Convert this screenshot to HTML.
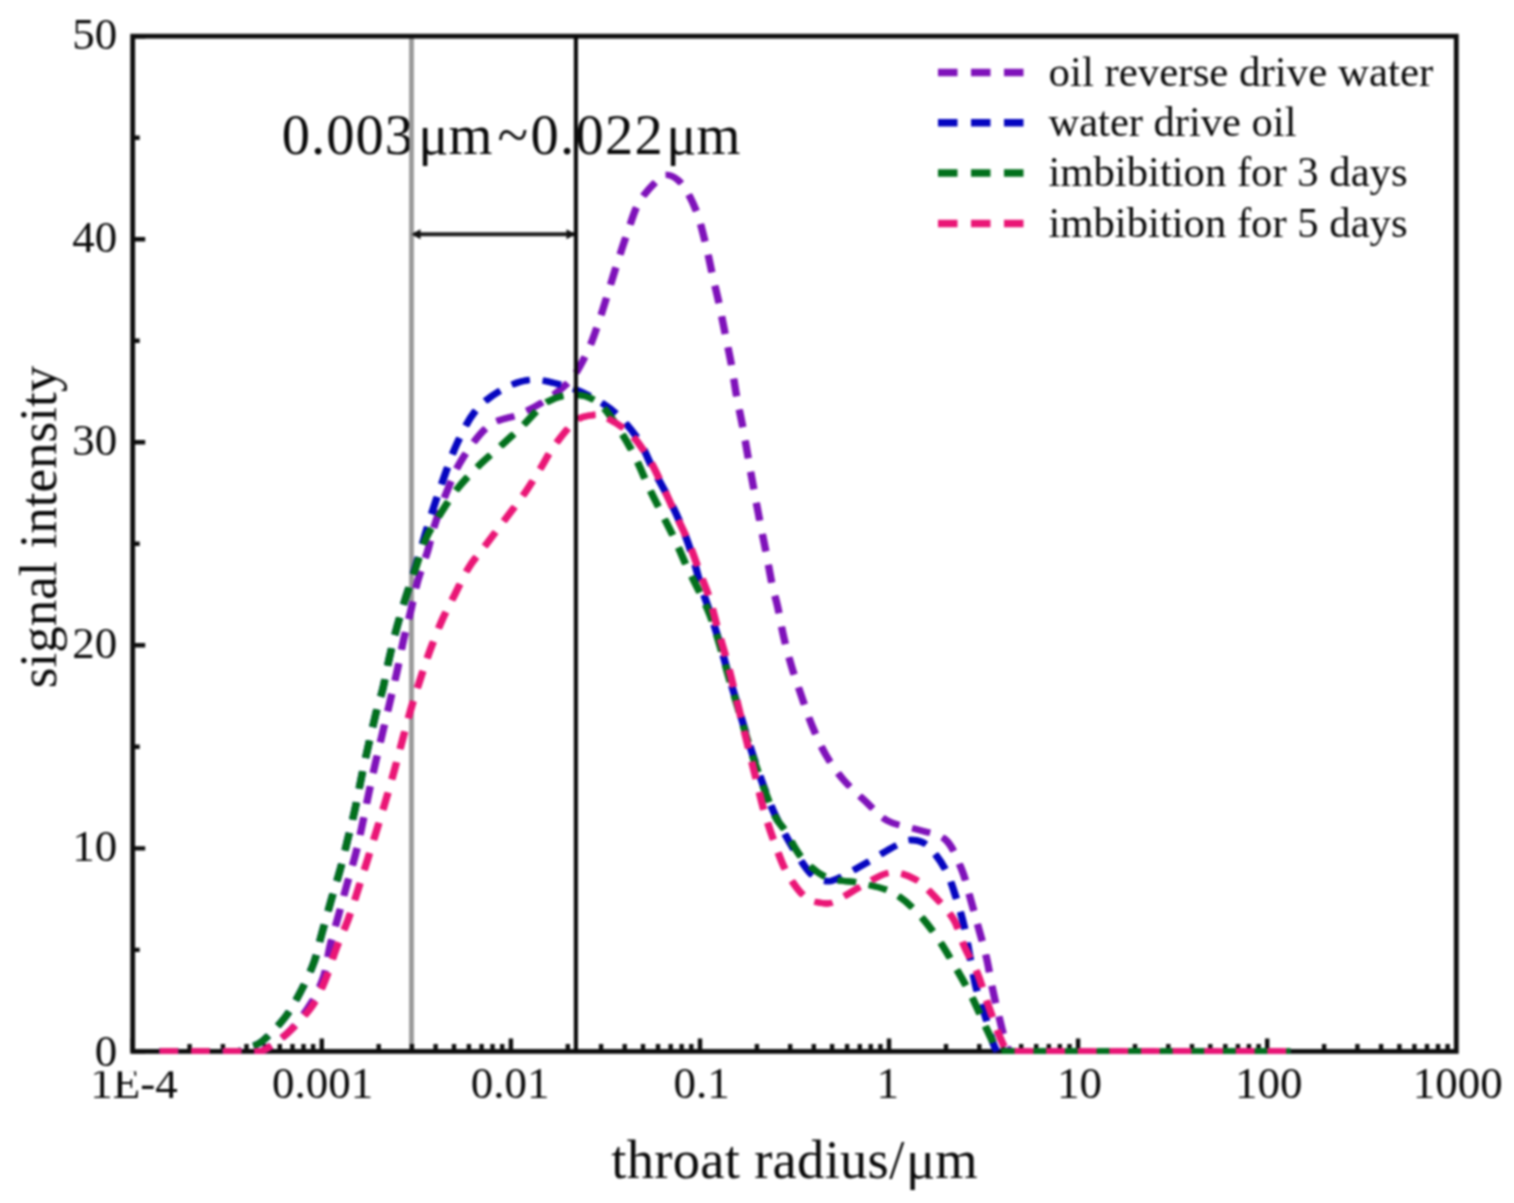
<!DOCTYPE html>
<html lang="en"><head><meta charset="utf-8"><title>Throat radius distribution</title>
<style>
html,body{margin:0;padding:0;background:#fff;}
body{width:1514px;height:1203px;overflow:hidden;}
svg{display:block;filter:blur(0.8px);}
</style></head><body>
<svg width="1514" height="1203" viewBox="0 0 1514 1203">
<rect x="0" y="0" width="1514" height="1203" fill="#ffffff"/>
<g font-family="'Liberation Serif', 'Times New Roman', serif" fill="#0a0a0a">
<text x="133.9" y="1097.6" font-size="45" text-anchor="middle">1E-4</text>
<text x="322.5" y="1097.6" font-size="45" text-anchor="middle">0.001</text>
<text x="510.1" y="1097.6" font-size="45" text-anchor="middle">0.01</text>
<text x="701.5" y="1097.6" font-size="45" text-anchor="middle">0.1</text>
<text x="887.8" y="1097.6" font-size="45" text-anchor="middle">1</text>
<text x="1079.6" y="1097.6" font-size="45" text-anchor="middle">10</text>
<text x="1268.7" y="1097.6" font-size="45" text-anchor="middle">100</text>
<text x="1457.8" y="1097.6" font-size="45" text-anchor="middle">1000</text>
<rect x="88" y="1057" width="96" height="14.4" fill="#ffffff"/>
<text x="117.3" y="1065.9" font-size="45" text-anchor="end">0</text>
<text x="117.3" y="860.9" font-size="45" text-anchor="end">10</text>
<text x="117.3" y="657.8" font-size="45" text-anchor="end">20</text>
<text x="117.3" y="454.8" font-size="45" text-anchor="end">30</text>
<text x="117.3" y="251.7" font-size="45" text-anchor="end">40</text>
<text x="117.3" y="48.7" font-size="45" text-anchor="end">50</text>
<text y="1177.8" font-size="54.5"><tspan x="611.3" letter-spacing="0.3">throat radius/</tspan><tspan x="906">μm</tspan></text>
<text transform="translate(55.8,688.2) rotate(-90)" font-size="53">signal intensity</text>
<text y="154.4" font-size="56.5"><tspan x="281.8" letter-spacing="1.0">0.003</tspan><tspan x="418.3">μm</tspan><tspan x="497.5">~</tspan><tspan x="530.5" letter-spacing="1.3">0.022</tspan><tspan x="666.3">μm</tspan></text>
<text x="1048.5" y="86.0" font-size="42.5" textLength="384.8" lengthAdjust="spacingAndGlyphs">oil reverse drive water</text>
<text x="1048.5" y="136.2" font-size="42.5" textLength="248.0" lengthAdjust="spacingAndGlyphs">water drive oil</text>
<text x="1048.5" y="186.4" font-size="42.5" textLength="359.0" lengthAdjust="spacingAndGlyphs">imbibition for 3 days</text>
<text x="1048.5" y="236.6" font-size="42.5" textLength="359.0" lengthAdjust="spacingAndGlyphs">imbibition for 5 days</text>
</g>
<line x1="411.5" y1="36.2" x2="411.5" y2="1051.4" stroke="#999999" stroke-width="4.8"/>
<path d="M132.7,1051.4 h12.5 M132.7,949.9 h7.0 M132.7,848.4 h12.5 M132.7,746.8 h7.0 M132.7,645.3 h12.5 M132.7,543.8 h7.0 M132.7,442.3 h12.5 M132.7,340.8 h7.0 M132.7,239.2 h12.5 M132.7,137.7 h7.0 M132.7,36.2 h12.5 M132.7,1051.4 v-13.0 M189.6,1051.4 v-7.5 M222.9,1051.4 v-7.5 M246.5,1051.4 v-7.5 M264.9,1051.4 v-7.5 M279.8,1051.4 v-7.5 M292.5,1051.4 v-7.5 M303.5,1051.4 v-7.5 M313.1,1051.4 v-7.5 M321.8,1051.4 v-13.0 M378.7,1051.4 v-7.5 M412.0,1051.4 v-7.5 M435.6,1051.4 v-7.5 M454.0,1051.4 v-7.5 M468.9,1051.4 v-7.5 M481.6,1051.4 v-7.5 M492.5,1051.4 v-7.5 M502.2,1051.4 v-7.5 M510.9,1051.4 v-13.0 M567.8,1051.4 v-7.5 M601.1,1051.4 v-7.5 M624.7,1051.4 v-7.5 M643.0,1051.4 v-7.5 M658.0,1051.4 v-7.5 M670.7,1051.4 v-7.5 M681.6,1051.4 v-7.5 M691.3,1051.4 v-7.5 M700.0,1051.4 v-13.0 M756.9,1051.4 v-7.5 M790.2,1051.4 v-7.5 M813.8,1051.4 v-7.5 M832.1,1051.4 v-7.5 M847.1,1051.4 v-7.5 M859.8,1051.4 v-7.5 M870.7,1051.4 v-7.5 M880.4,1051.4 v-7.5 M889.0,1051.4 v-13.0 M946.0,1051.4 v-7.5 M979.3,1051.4 v-7.5 M1002.9,1051.4 v-7.5 M1021.2,1051.4 v-7.5 M1036.2,1051.4 v-7.5 M1048.8,1051.4 v-7.5 M1059.8,1051.4 v-7.5 M1069.5,1051.4 v-7.5 M1078.1,1051.4 v-13.0 M1135.0,1051.4 v-7.5 M1168.3,1051.4 v-7.5 M1192.0,1051.4 v-7.5 M1210.3,1051.4 v-7.5 M1225.3,1051.4 v-7.5 M1237.9,1051.4 v-7.5 M1248.9,1051.4 v-7.5 M1258.6,1051.4 v-7.5 M1267.2,1051.4 v-13.0 M1324.1,1051.4 v-7.5 M1357.4,1051.4 v-7.5 M1381.1,1051.4 v-7.5 M1399.4,1051.4 v-7.5 M1414.4,1051.4 v-7.5 M1427.0,1051.4 v-7.5 M1438.0,1051.4 v-7.5 M1447.6,1051.4 v-7.5" stroke="#0d0d0d" stroke-width="4.4" fill="none"/>
<rect x="132.7" y="36.2" width="1323.6" height="1015.2" fill="none" stroke="#0d0d0d" stroke-width="4.8"/>
<clipPath id="plotclip"><rect x="130.3" y="33.8" width="1328.4" height="1020.0"/></clipPath>
<g clip-path="url(#plotclip)" fill="none" stroke="#7f12ba" stroke-width="6.3" stroke-dasharray="17.8 13.8" stroke-dashoffset="0" stroke-linejoin="round">
<path transform="translate(-0.55,0)" d="M160.0,1051.4 L262.0,1051.4 C264.2,1050.0 270.0,1046.8 275.0,1043.0 C280.0,1039.2 286.0,1035.2 292.0,1028.6 C298.0,1022.0 305.6,1012.0 310.9,1003.4 C316.2,994.8 320.4,986.3 323.6,976.8 C326.8,967.3 327.5,956.6 330.0,946.2 C332.5,935.8 336.0,924.5 338.8,914.3 C341.6,904.1 344.0,895.0 346.8,885.0 C349.6,875.0 352.9,864.4 355.5,854.4 C358.1,844.4 360.0,835.4 362.2,825.2 C364.4,815.0 366.6,803.4 368.8,793.2 C371.0,783.0 371.7,779.1 375.2,764.0 C378.7,748.9 386.2,717.6 389.8,702.4 C393.4,687.1 394.5,682.8 396.8,672.5 C399.1,662.2 401.1,650.9 403.4,640.6 C405.7,630.3 408.4,620.7 410.8,610.7 C413.2,600.7 415.0,590.7 417.8,580.7 C420.6,570.7 424.9,560.1 427.7,550.8 C430.5,541.5 431.5,534.7 434.7,524.9 C437.9,515.1 442.2,502.9 446.7,492.0 C451.2,481.1 454.8,470.7 461.8,459.7 C468.8,448.7 479.0,433.4 488.8,425.8 C498.6,418.2 510.9,418.3 520.7,413.8 C530.5,409.3 539.1,404.8 547.6,399.0 C556.1,393.2 564.9,386.8 571.5,378.9 C578.1,371.0 583.0,360.7 587.5,351.5 C592.0,342.3 594.8,333.2 598.2,323.6 C601.6,314.0 604.6,303.8 607.8,293.6 C611.0,283.5 614.1,272.8 617.4,262.7 C620.7,252.6 623.8,242.8 627.4,232.8 C631.0,222.8 633.8,211.6 638.7,202.9 C643.6,194.2 651.8,185.6 656.7,180.9 C661.6,176.2 663.7,174.3 668.0,175.0 C672.3,175.7 677.8,178.8 682.6,184.9 C687.4,191.0 692.8,202.0 696.6,211.8 C700.4,221.6 702.9,233.2 705.6,243.8 C708.3,254.5 710.3,265.4 712.6,275.7 C714.9,286.0 717.4,295.6 719.5,305.6 C721.6,315.6 723.4,325.2 725.5,335.5 C727.6,345.8 730.0,356.8 731.9,367.4 C733.8,378.0 735.2,388.7 737.1,398.9 C739.0,409.1 741.2,418.5 743.1,428.8 C745.0,439.1 746.9,450.4 748.7,460.7 C750.5,471.0 752.2,480.2 754.1,490.7 C756.0,501.2 758.3,513.1 760.3,523.6 C762.3,534.1 764.3,543.2 766.3,553.5 C768.3,563.8 770.4,576.5 772.3,585.4 C774.2,594.3 775.8,598.3 777.7,606.9 C779.6,615.5 781.4,626.9 783.7,636.9 C786.0,646.9 788.7,656.8 791.7,666.8 C794.7,676.8 798.3,686.8 801.7,696.7 C805.1,706.6 808.3,716.6 812.3,726.2 C816.3,735.8 820.5,745.6 825.6,754.5 C830.8,763.4 836.7,771.9 843.2,779.5 C849.7,787.1 857.1,793.5 864.5,800.4 C871.9,807.3 878.7,815.9 887.6,820.8 C896.5,825.7 908.5,826.6 918.1,829.8 C927.8,832.9 938.3,833.2 945.5,839.7 C952.7,846.2 957.2,858.9 961.4,868.7 C965.5,878.5 967.6,888.8 970.4,898.6 C973.2,908.4 975.7,917.7 978.4,927.5 C981.1,937.3 984.0,947.0 986.4,957.4 C988.8,967.8 990.5,979.3 992.7,989.7 C994.9,1000.1 997.4,1010.3 999.7,1019.6 C1002.0,1028.9 1004.8,1040.3 1006.7,1045.6 C1008.6,1050.9 1010.3,1050.4 1011.0,1051.4 L1290.0,1051.4"/>
<path transform="translate(0.55,0)" d="M160.0,1051.4 L262.0,1051.4 C264.2,1050.0 270.0,1046.8 275.0,1043.0 C280.0,1039.2 286.0,1035.2 292.0,1028.6 C298.0,1022.0 305.6,1012.0 310.9,1003.4 C316.2,994.8 320.4,986.3 323.6,976.8 C326.8,967.3 327.5,956.6 330.0,946.2 C332.5,935.8 336.0,924.5 338.8,914.3 C341.6,904.1 344.0,895.0 346.8,885.0 C349.6,875.0 352.9,864.4 355.5,854.4 C358.1,844.4 360.0,835.4 362.2,825.2 C364.4,815.0 366.6,803.4 368.8,793.2 C371.0,783.0 371.7,779.1 375.2,764.0 C378.7,748.9 386.2,717.6 389.8,702.4 C393.4,687.1 394.5,682.8 396.8,672.5 C399.1,662.2 401.1,650.9 403.4,640.6 C405.7,630.3 408.4,620.7 410.8,610.7 C413.2,600.7 415.0,590.7 417.8,580.7 C420.6,570.7 424.9,560.1 427.7,550.8 C430.5,541.5 431.5,534.7 434.7,524.9 C437.9,515.1 442.2,502.9 446.7,492.0 C451.2,481.1 454.8,470.7 461.8,459.7 C468.8,448.7 479.0,433.4 488.8,425.8 C498.6,418.2 510.9,418.3 520.7,413.8 C530.5,409.3 539.1,404.8 547.6,399.0 C556.1,393.2 564.9,386.8 571.5,378.9 C578.1,371.0 583.0,360.7 587.5,351.5 C592.0,342.3 594.8,333.2 598.2,323.6 C601.6,314.0 604.6,303.8 607.8,293.6 C611.0,283.5 614.1,272.8 617.4,262.7 C620.7,252.6 623.8,242.8 627.4,232.8 C631.0,222.8 633.8,211.6 638.7,202.9 C643.6,194.2 651.8,185.6 656.7,180.9 C661.6,176.2 663.7,174.3 668.0,175.0 C672.3,175.7 677.8,178.8 682.6,184.9 C687.4,191.0 692.8,202.0 696.6,211.8 C700.4,221.6 702.9,233.2 705.6,243.8 C708.3,254.5 710.3,265.4 712.6,275.7 C714.9,286.0 717.4,295.6 719.5,305.6 C721.6,315.6 723.4,325.2 725.5,335.5 C727.6,345.8 730.0,356.8 731.9,367.4 C733.8,378.0 735.2,388.7 737.1,398.9 C739.0,409.1 741.2,418.5 743.1,428.8 C745.0,439.1 746.9,450.4 748.7,460.7 C750.5,471.0 752.2,480.2 754.1,490.7 C756.0,501.2 758.3,513.1 760.3,523.6 C762.3,534.1 764.3,543.2 766.3,553.5 C768.3,563.8 770.4,576.5 772.3,585.4 C774.2,594.3 775.8,598.3 777.7,606.9 C779.6,615.5 781.4,626.9 783.7,636.9 C786.0,646.9 788.7,656.8 791.7,666.8 C794.7,676.8 798.3,686.8 801.7,696.7 C805.1,706.6 808.3,716.6 812.3,726.2 C816.3,735.8 820.5,745.6 825.6,754.5 C830.8,763.4 836.7,771.9 843.2,779.5 C849.7,787.1 857.1,793.5 864.5,800.4 C871.9,807.3 878.7,815.9 887.6,820.8 C896.5,825.7 908.5,826.6 918.1,829.8 C927.8,832.9 938.3,833.2 945.5,839.7 C952.7,846.2 957.2,858.9 961.4,868.7 C965.5,878.5 967.6,888.8 970.4,898.6 C973.2,908.4 975.7,917.7 978.4,927.5 C981.1,937.3 984.0,947.0 986.4,957.4 C988.8,967.8 990.5,979.3 992.7,989.7 C994.9,1000.1 997.4,1010.3 999.7,1019.6 C1002.0,1028.9 1004.8,1040.3 1006.7,1045.6 C1008.6,1050.9 1010.3,1050.4 1011.0,1051.4 L1290.0,1051.4"/>
</g>
<g clip-path="url(#plotclip)" fill="none" stroke="#0606c0" stroke-width="6.3" stroke-dasharray="17.8 13.8" stroke-dashoffset="0" stroke-linejoin="round">
<path transform="translate(-0.55,0)" d="M160.0,1051.4 L238.0,1051.4 C240.0,1050.7 245.8,1048.8 250.0,1047.0 C254.2,1045.2 257.2,1045.5 263.0,1040.6 C268.8,1035.7 278.8,1025.4 285.0,1017.4 C291.2,1009.4 295.2,1001.7 300.0,992.7 C304.8,983.7 309.8,973.5 313.5,963.5 C317.2,953.5 319.0,943.5 322.0,932.9 C325.0,922.2 328.4,909.8 331.3,899.6 C334.2,889.4 336.9,881.5 339.6,871.7 C342.3,862.0 344.8,851.3 347.3,841.1 C349.8,830.9 352.4,820.7 354.7,810.5 C357.0,800.3 359.1,788.6 360.9,780.0 C362.7,771.4 362.9,769.8 365.4,758.7 C367.9,747.6 373.0,725.1 375.9,713.4 C378.8,701.7 380.7,697.6 382.9,688.5 C385.1,679.4 386.9,668.6 389.2,658.5 C391.5,648.4 394.0,637.8 396.8,627.6 C399.6,617.4 402.6,607.6 405.8,597.3 C409.0,587.0 412.6,576.1 415.8,565.8 C419.0,555.5 421.9,545.4 424.9,535.5 C427.9,525.6 430.7,516.2 433.9,506.6 C437.1,497.0 440.1,488.1 443.9,477.6 C447.7,467.1 451.8,454.7 456.9,443.7 C462.0,432.7 467.7,420.6 474.8,411.8 C481.9,403.0 490.5,396.2 499.7,390.9 C508.9,385.6 519.4,380.9 529.7,379.9 C540.0,378.9 551.3,382.1 561.6,384.9 C571.9,387.7 582.4,392.1 591.5,396.9 C600.6,401.7 608.6,406.7 616.4,413.8 C624.2,420.9 632.2,430.4 638.4,439.7 C644.5,449.0 648.3,460.0 653.3,469.7 C658.3,479.4 663.6,488.3 668.3,497.6 C673.0,506.9 677.3,515.9 681.3,525.5 C685.3,535.1 689.0,545.4 692.2,555.4 C695.5,565.4 697.8,575.6 700.8,585.4 C703.8,595.2 707.2,603.9 710.5,614.0 C713.8,624.1 717.4,635.2 720.5,645.8 C723.6,656.4 726.4,667.4 729.4,677.7 C732.4,688.0 735.4,697.7 738.4,707.7 C741.4,717.7 744.3,728.0 747.3,737.6 C750.3,747.2 753.1,756.2 756.3,765.5 C759.5,774.8 763.0,784.8 766.3,793.4 C769.6,802.0 771.8,808.3 776.3,817.4 C780.8,826.5 787.2,838.6 793.0,848.0 C798.8,857.4 805.3,868.2 810.8,873.7 C816.3,879.2 821.2,880.4 826.0,881.0 C830.8,881.6 832.9,880.6 839.7,877.6 C846.5,874.6 857.4,868.0 866.7,862.7 C876.0,857.4 888.1,849.5 895.6,845.7 C903.1,841.9 906.2,840.0 911.5,840.0 C916.8,840.0 921.8,840.8 927.5,845.7 C933.2,850.7 940.7,860.9 945.5,869.7 C950.3,878.5 953.2,889.0 956.4,898.6 C959.5,908.2 962.1,917.4 964.4,927.5 C966.7,937.6 968.3,949.0 970.4,959.4 C972.5,969.8 974.2,980.0 976.7,989.7 C979.2,999.4 983.0,1008.7 985.7,1017.6 C988.4,1026.5 991.1,1037.4 993.0,1043.0 C994.9,1048.6 996.3,1050.0 997.0,1051.4 L1290.0,1051.4"/>
<path transform="translate(0.55,0)" d="M160.0,1051.4 L238.0,1051.4 C240.0,1050.7 245.8,1048.8 250.0,1047.0 C254.2,1045.2 257.2,1045.5 263.0,1040.6 C268.8,1035.7 278.8,1025.4 285.0,1017.4 C291.2,1009.4 295.2,1001.7 300.0,992.7 C304.8,983.7 309.8,973.5 313.5,963.5 C317.2,953.5 319.0,943.5 322.0,932.9 C325.0,922.2 328.4,909.8 331.3,899.6 C334.2,889.4 336.9,881.5 339.6,871.7 C342.3,862.0 344.8,851.3 347.3,841.1 C349.8,830.9 352.4,820.7 354.7,810.5 C357.0,800.3 359.1,788.6 360.9,780.0 C362.7,771.4 362.9,769.8 365.4,758.7 C367.9,747.6 373.0,725.1 375.9,713.4 C378.8,701.7 380.7,697.6 382.9,688.5 C385.1,679.4 386.9,668.6 389.2,658.5 C391.5,648.4 394.0,637.8 396.8,627.6 C399.6,617.4 402.6,607.6 405.8,597.3 C409.0,587.0 412.6,576.1 415.8,565.8 C419.0,555.5 421.9,545.4 424.9,535.5 C427.9,525.6 430.7,516.2 433.9,506.6 C437.1,497.0 440.1,488.1 443.9,477.6 C447.7,467.1 451.8,454.7 456.9,443.7 C462.0,432.7 467.7,420.6 474.8,411.8 C481.9,403.0 490.5,396.2 499.7,390.9 C508.9,385.6 519.4,380.9 529.7,379.9 C540.0,378.9 551.3,382.1 561.6,384.9 C571.9,387.7 582.4,392.1 591.5,396.9 C600.6,401.7 608.6,406.7 616.4,413.8 C624.2,420.9 632.2,430.4 638.4,439.7 C644.5,449.0 648.3,460.0 653.3,469.7 C658.3,479.4 663.6,488.3 668.3,497.6 C673.0,506.9 677.3,515.9 681.3,525.5 C685.3,535.1 689.0,545.4 692.2,555.4 C695.5,565.4 697.8,575.6 700.8,585.4 C703.8,595.2 707.2,603.9 710.5,614.0 C713.8,624.1 717.4,635.2 720.5,645.8 C723.6,656.4 726.4,667.4 729.4,677.7 C732.4,688.0 735.4,697.7 738.4,707.7 C741.4,717.7 744.3,728.0 747.3,737.6 C750.3,747.2 753.1,756.2 756.3,765.5 C759.5,774.8 763.0,784.8 766.3,793.4 C769.6,802.0 771.8,808.3 776.3,817.4 C780.8,826.5 787.2,838.6 793.0,848.0 C798.8,857.4 805.3,868.2 810.8,873.7 C816.3,879.2 821.2,880.4 826.0,881.0 C830.8,881.6 832.9,880.6 839.7,877.6 C846.5,874.6 857.4,868.0 866.7,862.7 C876.0,857.4 888.1,849.5 895.6,845.7 C903.1,841.9 906.2,840.0 911.5,840.0 C916.8,840.0 921.8,840.8 927.5,845.7 C933.2,850.7 940.7,860.9 945.5,869.7 C950.3,878.5 953.2,889.0 956.4,898.6 C959.5,908.2 962.1,917.4 964.4,927.5 C966.7,937.6 968.3,949.0 970.4,959.4 C972.5,969.8 974.2,980.0 976.7,989.7 C979.2,999.4 983.0,1008.7 985.7,1017.6 C988.4,1026.5 991.1,1037.4 993.0,1043.0 C994.9,1048.6 996.3,1050.0 997.0,1051.4 L1290.0,1051.4"/>
</g>
<g clip-path="url(#plotclip)" fill="none" stroke="#02701c" stroke-width="6.3" stroke-dasharray="17.8 13.8" stroke-dashoffset="0" stroke-linejoin="round">
<path transform="translate(-0.55,0)" d="M160.0,1051.4 L238.0,1051.4 C240.0,1050.7 245.8,1048.8 250.0,1047.0 C254.2,1045.2 257.2,1045.5 263.0,1040.6 C268.8,1035.7 278.8,1025.4 285.0,1017.4 C291.2,1009.4 295.2,1001.7 300.0,992.7 C304.8,983.7 309.8,973.5 313.5,963.5 C317.2,953.5 319.0,943.5 322.0,932.9 C325.0,922.2 328.4,909.8 331.3,899.6 C334.2,889.4 336.9,881.5 339.6,871.7 C342.3,862.0 344.8,851.3 347.3,841.1 C349.8,830.9 352.4,820.7 354.7,810.5 C357.0,800.3 359.1,788.6 360.9,780.0 C362.7,771.4 362.9,769.8 365.4,758.7 C367.9,747.6 373.0,725.1 375.9,713.4 C378.8,701.7 380.7,697.6 382.9,688.5 C385.1,679.4 386.9,668.6 389.2,658.5 C391.5,648.4 394.0,637.8 396.8,627.6 C399.6,617.4 402.6,607.3 405.8,597.3 C409.0,587.3 412.5,577.5 415.8,567.8 C419.1,558.0 421.9,547.5 425.8,538.8 C429.7,530.1 434.0,523.9 439.3,515.5 C444.6,507.1 451.3,496.5 457.7,488.4 C464.1,480.3 471.1,473.3 477.8,466.7 C484.5,460.1 490.5,455.2 497.7,448.7 C504.9,442.2 512.4,435.6 520.7,427.8 C529.0,420.0 538.5,407.3 547.6,401.8 C556.7,396.3 566.9,394.6 575.5,394.9 C584.1,395.2 591.9,397.5 599.5,403.8 C607.1,410.1 615.2,423.5 621.4,432.8 C627.5,442.1 631.9,450.7 636.4,459.7 C640.9,468.7 644.2,477.8 648.4,486.6 C652.5,495.4 656.8,503.5 661.3,512.5 C665.8,521.5 671.0,531.4 675.3,540.5 C679.6,549.6 683.2,559.0 687.2,567.4 C691.2,575.8 695.2,583.1 699.0,591.0 C702.8,598.9 706.5,605.9 710.0,615.0 C713.5,624.1 716.9,635.3 720.0,645.8 C723.1,656.2 725.9,667.4 728.9,677.7 C731.9,688.0 734.9,697.7 737.9,707.7 C740.9,717.7 743.8,728.0 746.8,737.6 C749.8,747.2 752.6,756.2 755.8,765.5 C759.0,774.8 762.5,784.8 765.8,793.4 C769.1,802.0 772.4,811.0 775.8,817.4 C779.1,823.8 781.6,825.1 785.9,831.8 C790.2,838.5 795.0,850.1 801.8,857.7 C808.6,865.3 817.5,873.5 826.8,877.6 C836.1,881.8 847.1,880.3 857.7,882.6 C868.3,884.9 881.0,886.9 890.6,891.6 C900.2,896.3 907.9,903.1 915.5,910.6 C923.1,918.1 930.0,927.4 936.5,936.5 C943.0,945.6 948.7,955.7 954.4,965.4 C960.1,975.1 965.9,985.2 970.8,994.7 C975.7,1004.2 979.7,1014.1 983.7,1022.6 C987.7,1031.1 992.2,1040.8 994.7,1045.6 C997.2,1050.4 998.3,1050.4 999.0,1051.4 L1290.0,1051.4"/>
<path transform="translate(0.55,0)" d="M160.0,1051.4 L238.0,1051.4 C240.0,1050.7 245.8,1048.8 250.0,1047.0 C254.2,1045.2 257.2,1045.5 263.0,1040.6 C268.8,1035.7 278.8,1025.4 285.0,1017.4 C291.2,1009.4 295.2,1001.7 300.0,992.7 C304.8,983.7 309.8,973.5 313.5,963.5 C317.2,953.5 319.0,943.5 322.0,932.9 C325.0,922.2 328.4,909.8 331.3,899.6 C334.2,889.4 336.9,881.5 339.6,871.7 C342.3,862.0 344.8,851.3 347.3,841.1 C349.8,830.9 352.4,820.7 354.7,810.5 C357.0,800.3 359.1,788.6 360.9,780.0 C362.7,771.4 362.9,769.8 365.4,758.7 C367.9,747.6 373.0,725.1 375.9,713.4 C378.8,701.7 380.7,697.6 382.9,688.5 C385.1,679.4 386.9,668.6 389.2,658.5 C391.5,648.4 394.0,637.8 396.8,627.6 C399.6,617.4 402.6,607.3 405.8,597.3 C409.0,587.3 412.5,577.5 415.8,567.8 C419.1,558.0 421.9,547.5 425.8,538.8 C429.7,530.1 434.0,523.9 439.3,515.5 C444.6,507.1 451.3,496.5 457.7,488.4 C464.1,480.3 471.1,473.3 477.8,466.7 C484.5,460.1 490.5,455.2 497.7,448.7 C504.9,442.2 512.4,435.6 520.7,427.8 C529.0,420.0 538.5,407.3 547.6,401.8 C556.7,396.3 566.9,394.6 575.5,394.9 C584.1,395.2 591.9,397.5 599.5,403.8 C607.1,410.1 615.2,423.5 621.4,432.8 C627.5,442.1 631.9,450.7 636.4,459.7 C640.9,468.7 644.2,477.8 648.4,486.6 C652.5,495.4 656.8,503.5 661.3,512.5 C665.8,521.5 671.0,531.4 675.3,540.5 C679.6,549.6 683.2,559.0 687.2,567.4 C691.2,575.8 695.2,583.1 699.0,591.0 C702.8,598.9 706.5,605.9 710.0,615.0 C713.5,624.1 716.9,635.3 720.0,645.8 C723.1,656.2 725.9,667.4 728.9,677.7 C731.9,688.0 734.9,697.7 737.9,707.7 C740.9,717.7 743.8,728.0 746.8,737.6 C749.8,747.2 752.6,756.2 755.8,765.5 C759.0,774.8 762.5,784.8 765.8,793.4 C769.1,802.0 772.4,811.0 775.8,817.4 C779.1,823.8 781.6,825.1 785.9,831.8 C790.2,838.5 795.0,850.1 801.8,857.7 C808.6,865.3 817.5,873.5 826.8,877.6 C836.1,881.8 847.1,880.3 857.7,882.6 C868.3,884.9 881.0,886.9 890.6,891.6 C900.2,896.3 907.9,903.1 915.5,910.6 C923.1,918.1 930.0,927.4 936.5,936.5 C943.0,945.6 948.7,955.7 954.4,965.4 C960.1,975.1 965.9,985.2 970.8,994.7 C975.7,1004.2 979.7,1014.1 983.7,1022.6 C987.7,1031.1 992.2,1040.8 994.7,1045.6 C997.2,1050.4 998.3,1050.4 999.0,1051.4 L1290.0,1051.4"/>
</g>
<g clip-path="url(#plotclip)" fill="none" stroke="#ea1676" stroke-width="6.3" stroke-dasharray="17.8 13.8" stroke-dashoffset="0" stroke-linejoin="round">
<path transform="translate(-0.55,0)" d="M160.0,1051.4 L262.0,1051.4 C264.2,1050.0 270.2,1046.6 275.0,1043.0 C279.8,1039.4 284.7,1036.2 290.9,1030.0 C297.1,1023.8 306.4,1014.4 312.2,1006.0 C318.0,997.6 321.5,988.9 325.5,979.4 C329.5,969.9 332.3,958.8 336.1,948.8 C339.9,938.8 344.4,929.6 348.1,919.6 C351.8,909.6 355.0,899.0 358.2,889.0 C361.4,879.0 364.4,869.6 367.5,859.7 C370.6,849.8 373.7,839.7 376.8,829.7 C379.9,819.7 382.9,810.0 385.9,799.9 C388.9,789.8 390.5,784.4 394.6,769.3 C398.8,754.2 406.4,724.7 410.8,709.4 C415.2,694.1 417.6,687.5 420.8,677.5 C424.1,667.5 426.7,659.2 430.3,649.6 C433.9,640.0 438.2,628.8 442.3,619.6 C446.4,610.5 450.3,603.3 454.7,594.7 C459.1,586.1 463.3,576.3 468.6,567.8 C473.9,559.3 480.5,551.9 486.6,543.8 C492.8,535.6 499.0,527.5 505.5,518.9 C512.0,510.3 519.5,500.7 525.5,492.0 C531.5,483.3 536.9,474.2 541.6,466.7 C546.3,459.1 548.1,454.2 553.6,446.7 C559.1,439.2 568.4,427.0 574.5,421.8 C580.6,416.6 585.0,416.3 590.0,415.5 C595.0,414.7 597.8,413.8 604.5,416.8 C611.2,419.9 622.9,426.7 630.4,433.8 C637.9,440.9 643.9,450.7 649.4,459.7 C654.9,468.7 659.0,478.6 663.3,487.6 C667.6,496.6 671.1,504.5 675.3,513.5 C679.5,522.5 684.2,531.7 688.3,541.5 C692.4,551.3 696.2,562.8 699.8,572.5 C703.4,582.2 707.0,590.4 710.0,600.0 C713.0,609.6 715.2,619.9 718.0,630.0 C720.8,640.1 724.1,650.3 726.9,660.8 C729.7,671.2 732.3,682.4 734.9,692.7 C737.5,703.0 739.7,712.5 742.2,722.6 C744.7,732.7 747.3,743.5 749.8,753.5 C752.3,763.5 754.5,772.9 757.0,782.9 C759.5,792.9 761.9,803.7 764.9,813.8 C767.9,823.9 771.2,833.9 774.9,843.7 C778.6,853.5 781.9,863.9 786.9,872.7 C791.9,881.5 798.9,891.6 804.8,896.6 C810.6,901.6 817.0,902.2 822.0,903.0 C827.0,903.8 828.3,904.3 834.8,901.6 C841.2,898.9 851.6,891.4 860.7,886.6 C869.8,881.8 880.5,873.9 889.6,872.7 C898.7,871.5 907.5,875.1 915.5,879.6 C923.5,884.1 931.1,892.9 937.5,899.6 C943.9,906.3 949.5,912.2 954.0,920.0 C958.5,927.8 960.5,937.6 964.4,946.5 C968.3,955.4 973.5,963.9 977.4,973.4 C981.3,982.9 984.3,994.0 987.7,1003.7 C991.1,1013.4 995.0,1024.6 997.7,1031.6 C1000.4,1038.6 1002.2,1042.3 1003.7,1045.6 C1005.2,1048.9 1006.5,1050.4 1007.0,1051.4 L1290.0,1051.4"/>
<path transform="translate(0.55,0)" d="M160.0,1051.4 L262.0,1051.4 C264.2,1050.0 270.2,1046.6 275.0,1043.0 C279.8,1039.4 284.7,1036.2 290.9,1030.0 C297.1,1023.8 306.4,1014.4 312.2,1006.0 C318.0,997.6 321.5,988.9 325.5,979.4 C329.5,969.9 332.3,958.8 336.1,948.8 C339.9,938.8 344.4,929.6 348.1,919.6 C351.8,909.6 355.0,899.0 358.2,889.0 C361.4,879.0 364.4,869.6 367.5,859.7 C370.6,849.8 373.7,839.7 376.8,829.7 C379.9,819.7 382.9,810.0 385.9,799.9 C388.9,789.8 390.5,784.4 394.6,769.3 C398.8,754.2 406.4,724.7 410.8,709.4 C415.2,694.1 417.6,687.5 420.8,677.5 C424.1,667.5 426.7,659.2 430.3,649.6 C433.9,640.0 438.2,628.8 442.3,619.6 C446.4,610.5 450.3,603.3 454.7,594.7 C459.1,586.1 463.3,576.3 468.6,567.8 C473.9,559.3 480.5,551.9 486.6,543.8 C492.8,535.6 499.0,527.5 505.5,518.9 C512.0,510.3 519.5,500.7 525.5,492.0 C531.5,483.3 536.9,474.2 541.6,466.7 C546.3,459.1 548.1,454.2 553.6,446.7 C559.1,439.2 568.4,427.0 574.5,421.8 C580.6,416.6 585.0,416.3 590.0,415.5 C595.0,414.7 597.8,413.8 604.5,416.8 C611.2,419.9 622.9,426.7 630.4,433.8 C637.9,440.9 643.9,450.7 649.4,459.7 C654.9,468.7 659.0,478.6 663.3,487.6 C667.6,496.6 671.1,504.5 675.3,513.5 C679.5,522.5 684.2,531.7 688.3,541.5 C692.4,551.3 696.2,562.8 699.8,572.5 C703.4,582.2 707.0,590.4 710.0,600.0 C713.0,609.6 715.2,619.9 718.0,630.0 C720.8,640.1 724.1,650.3 726.9,660.8 C729.7,671.2 732.3,682.4 734.9,692.7 C737.5,703.0 739.7,712.5 742.2,722.6 C744.7,732.7 747.3,743.5 749.8,753.5 C752.3,763.5 754.5,772.9 757.0,782.9 C759.5,792.9 761.9,803.7 764.9,813.8 C767.9,823.9 771.2,833.9 774.9,843.7 C778.6,853.5 781.9,863.9 786.9,872.7 C791.9,881.5 798.9,891.6 804.8,896.6 C810.6,901.6 817.0,902.2 822.0,903.0 C827.0,903.8 828.3,904.3 834.8,901.6 C841.2,898.9 851.6,891.4 860.7,886.6 C869.8,881.8 880.5,873.9 889.6,872.7 C898.7,871.5 907.5,875.1 915.5,879.6 C923.5,884.1 931.1,892.9 937.5,899.6 C943.9,906.3 949.5,912.2 954.0,920.0 C958.5,927.8 960.5,937.6 964.4,946.5 C968.3,955.4 973.5,963.9 977.4,973.4 C981.3,982.9 984.3,994.0 987.7,1003.7 C991.1,1013.4 995.0,1024.6 997.7,1031.6 C1000.4,1038.6 1002.2,1042.3 1003.7,1045.6 C1005.2,1048.9 1006.5,1050.4 1007.0,1051.4 L1290.0,1051.4"/>
</g>
<line x1="575.9" y1="36.2" x2="575.9" y2="1051.4" stroke="#0a0a0a" stroke-width="4.1"/>
<line x1="414" y1="234.3" x2="574" y2="234.3" stroke="#1c1c1c" stroke-width="4"/>
<path d="M411.5,234.3 l9,-5 v10 z M575.5,234.3 l-9,-5 v10 z" fill="#111"/>
<path d="M938,72.5 h19.5 M971,72.5 h19.5 M1004,72.5 h19.5" stroke="#7f12ba" stroke-width="7.5" fill="none"/>
<path d="M938,122.8 h19.5 M971,122.8 h19.5 M1004,122.8 h19.5" stroke="#0606c0" stroke-width="7.5" fill="none"/>
<path d="M938,173.1 h19.5 M971,173.1 h19.5 M1004,173.1 h19.5" stroke="#02701c" stroke-width="7.5" fill="none"/>
<path d="M938,223.4 h19.5 M971,223.4 h19.5 M1004,223.4 h19.5" stroke="#ea1676" stroke-width="7.5" fill="none"/>
</svg>
</body></html>
